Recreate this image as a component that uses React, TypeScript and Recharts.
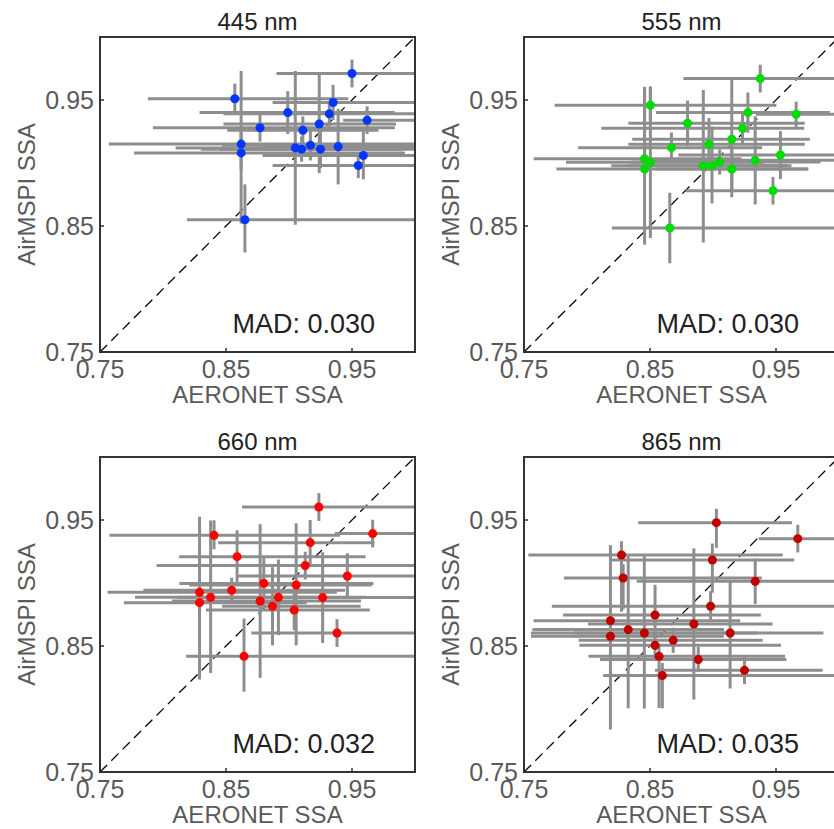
import { ScatterChart, Scatter, XAxis, YAxis, ZAxis, ErrorBar, ReferenceLine, ReferenceArea } from 'recharts';

// axis ticks shared by all panels
const ssaTicks = [0.75, 0.85, 0.95];
const ssaDomain: [number, number] = [0.75, 1.0];

// 445 nm
const aeronet445 = [0.857, 0.862, 0.862, 0.865, 0.877, 0.899, 0.911, 0.905, 0.910, 0.917, 0.924, 0.925, 0.932, 0.935, 0.939, 0.950, 0.962, 0.959, 0.955];
const airmspi445 = [0.951, 0.915, 0.908, 0.855, 0.928, 0.940, 0.926, 0.912, 0.911, 0.914, 0.931, 0.911, 0.939, 0.948, 0.913, 0.971, 0.934, 0.906, 0.898];
const xErr445 = [[0.069, 0.09], [0.105, 0.14], [0.085, 0.13], [0.046, 0.14], [0.085, 0.107], [0.07, 0.085], [0.06, 0.06], [0.095, 0.1], [0.08, 0.08], [0.07, 0.08], [0.076, 0.061], [0.08, 0.08], [0.084, 0.068], [0.048, 0.07], [0.06, 0.07], [0.06, 0.06], [0.019, 0.04], [0.08, 0.05], [0.068, 0.05]];
const yErr445 = [[0.012, 0.012], [0.02, 0.058], [0.056, 0.02], [0.026, 0.028], [0.011, 0.011], [0.017, 0.017], [0.011, 0.011], [0.061, 0.061], [0.01, 0.01], [0.012, 0.012], [0.039, 0.04], [0.015, 0.015], [0.01, 0.01], [0.014, 0.014], [0.03, 0.03], [0.011, 0.011], [0.011, 0.011], [0.019, 0.019], [0.01, 0.01]];

// 555 nm
const aeronet555 = [0.9375, 0.8503, 0.9277, 0.966, 0.8798, 0.9234, 0.9149, 0.8968, 0.867, 0.9535, 0.8457, 0.8503, 0.9335, 0.9053, 0.8992, 0.8923, 0.9149, 0.8457, 0.9476, 0.8657];
const airmspi555 = [0.967, 0.9458, 0.94, 0.9386, 0.9315, 0.9275, 0.9188, 0.9148, 0.9122, 0.9063, 0.9034, 0.9005, 0.9021, 0.9008, 0.8979, 0.8979, 0.8952, 0.8952, 0.878, 0.8484];
const xErr555 = [[0.061, 0.07], [0.076, 0.1], [0.073, 0.065], [0.032, 0.05], [0.047, 0.093], [0.112, 0.049], [0.079, 0.062], [0.064, 0.076], [0.074, 0.072], [0.081, 0.06], [0.088, 0.077], [0.067, 0.09], [0.09, 0.07], [0.07, 0.08], [0.08, 0.06], [0.06, 0.07], [0.06, 0.06], [0.07, 0.13], [0.069, 0.06], [0.046, 0.14]];
const yErr555 = [[0.011, 0.011], [0.012, 0.015], [0.016, 0.016], [0.01, 0.01], [0.018, 0.018], [0.012, 0.012], [0.046, 0.047], [0.021, 0.021], [0.012, 0.012], [0.019, 0.019], [0.012, 0.057], [0.06, 0.06], [0.035, 0.035], [0.01, 0.01], [0.03, 0.031], [0.061, 0.06], [0.018, 0.018], [0.06, 0.065], [0.011, 0.011], [0.028, 0.028]];

// 660 nm
const aeronet660 = [0.9237, 0.9664, 0.8405, 0.9168, 0.8588, 0.9129, 0.9463, 0.88, 0.9057, 0.8545, 0.829, 0.8378, 0.8916, 0.9267, 0.829, 0.8771, 0.8869, 0.9041, 0.9381, 0.8643];
const airmspi660 = [0.9603, 0.9392, 0.9378, 0.932, 0.9209, 0.9138, 0.9056, 0.8997, 0.8984, 0.8942, 0.8926, 0.8886, 0.8886, 0.8884, 0.8844, 0.8857, 0.8815, 0.8786, 0.8603, 0.8418];
const xErr660 = [[0.061, 0.08], [0.03, 0.04], [0.083, 0.1], [0.073, 0.051], [0.046, 0.102], [0.118, 0.1], [0.087, 0.06], [0.067, 0.087], [0.085, 0.06], [0.07, 0.09], [0.073, 0.109], [0.06, 0.09], [0.08, 0.07], [0.09, 0.08], [0.06, 0.085], [0.07, 0.08], [0.04, 0.07], [0.07, 0.06], [0.068, 0.07], [0.046, 0.14]];
const yErr660 = [[0.011, 0.011], [0.011, 0.011], [0.011, 0.012], [0.018, 0.018], [0.021, 0.021], [0.011, 0.011], [0.018, 0.018], [0.02, 0.02], [0.048, 0.049], [0.01, 0.01], [0.015, 0.06], [0.06, 0.061], [0.03, 0.03], [0.036, 0.036], [0.061, 0.015], [0.061, 0.061], [0.031, 0.031], [0.016, 0.016], [0.011, 0.011], [0.028, 0.03]];

// 865 nm
const aeronet865 = [0.9027, 0.9673, 0.8274, 0.8995, 0.8287, 0.9335, 0.8981, 0.854, 0.8186, 0.8848, 0.8327, 0.8455, 0.9136, 0.8186, 0.8684, 0.854, 0.8572, 0.8883, 0.925, 0.8598];
const airmspi865 = [0.9479, 0.9352, 0.9222, 0.9183, 0.904, 0.9013, 0.8815, 0.8746, 0.8701, 0.8675, 0.863, 0.8603, 0.8603, 0.8577, 0.8545, 0.8505, 0.8418, 0.8392, 0.8307, 0.8265];
const xErr865 = [[0.062, 0.06], [0.031, 0.04], [0.074, 0.128], [0.08, 0.065], [0.047, 0.11], [0.094, 0.07], [0.126, 0.11], [0.073, 0.084], [0.061, 0.103], [0.084, 0.0625], [0.076, 0.076], [0.09, 0.09], [0.124, 0.074], [0.063, 0.09], [0.075, 0.071], [0.06, 0.1], [0.056, 0.1], [0.078, 0.07], [0.071, 0.062], [0.047, 0.14]];
const yErr865 = [[0.02, 0.011], [0.011, 0.011], [0.045, 0.011], [0.026, 0.013], [0.025, 0.011], [0.018, 0.018], [0.012, 0.012], [0.025, 0.024], [0.02, 0.06], [0.06, 0.06], [0.0625, 0.06], [0.06, 0.062], [0.044, 0.042], [0.074, 0.02], [0.01, 0.01], [0.01, 0.01], [0.041, 0.01], [0.01, 0.01], [0.011, 0.011], [0.026, 0.01]];

const PLOT_L = 100;
const PLOT_T = 37;
const PLOT_SIZE = 315;
const GRAY = '#8e8e8e';
const FRAME = '#333';
const TICK_TEXT = '#5a5a5a';

interface PanelProps {
  title: string;
  mad: string;
  color: string;
  x: number[];
  y: number[];
  xErr: number[][];
  yErr: number[][];
  left: number;
  top: number;
}

// error bars are cut at the frame, like the original axes do
const clip = (v: number, err: number[]) => [
  Math.min(err[0], v - ssaDomain[0]),
  Math.min(err[1], ssaDomain[1] - v),
];

function Panel({ title, mad, color, x, y, xErr, yErr, left, top }: PanelProps) {
  const data = x.map((v, i) => ({
    aeronet: v,
    airmspi: y[i],
    ex: clip(v, xErr[i]),
    ey: clip(y[i], yErr[i]),
  }));
  const cx = PLOT_L + PLOT_SIZE / 2;
  const cy = PLOT_T + PLOT_SIZE / 2;
  const bottom = PLOT_T + PLOT_SIZE;

  return (
    <div style={{ position: 'absolute', left: left - PLOT_L, top: top - PLOT_T }}>
      <ScatterChart width={430} height={432} margin={{ top: PLOT_T - 1, right: 14, bottom: 0, left: 0 }}>
        <XAxis
          xAxisId="b"
          type="number"
          dataKey="aeronet"
          orientation="bottom"
          domain={ssaDomain}
          ticks={ssaTicks}
          interval={0}
          allowDataOverflow
          height={80}
          tickSize={-4}
          tickMargin={12}
          axisLine={{ stroke: FRAME, strokeWidth: 2 }}
          tickLine={{ stroke: FRAME, strokeWidth: 1.5 }}
          tick={{ fill: TICK_TEXT, fontSize: 25 }}
          tickFormatter={(v: number) => v.toFixed(2)}
          label={() => (
            <g>
              <text x={cx} y={bottom + 51} textAnchor="middle" fontSize={24} fill={TICK_TEXT}>AERONET SSA</text>
              <text x={PLOT_L + PLOT_SIZE - 40} y={bottom - 19} textAnchor="end" fontSize={27} fill="#222">{mad}</text>
            </g>
          )}
        />
        <XAxis
          xAxisId="t"
          type="number"
          orientation="top"
          domain={ssaDomain}
          ticks={ssaTicks}
          interval={0}
          allowDataOverflow
          height={1}
          tickSize={-5}
          tick={false}
          axisLine={{ stroke: FRAME, strokeWidth: 2 }}
          tickLine={{ stroke: FRAME, strokeWidth: 1.5 }}
          label={() => (
            <text x={cx} y={PLOT_T - 7} textAnchor="middle" fontSize={24} fill="#222">{title}</text>
          )}
        />
        <YAxis
          yAxisId="l"
          type="number"
          dataKey="airmspi"
          orientation="left"
          domain={ssaDomain}
          ticks={ssaTicks}
          interval={0}
          allowDataOverflow
          width={PLOT_L}
          tickSize={-4}
          tickMargin={10}
          axisLine={{ stroke: FRAME, strokeWidth: 2 }}
          tickLine={{ stroke: FRAME, strokeWidth: 1.5 }}
          tick={{ fill: TICK_TEXT, fontSize: 25 }}
          tickFormatter={(v: number) => v.toFixed(2)}
          label={() => (
            <text x={35} y={cy} transform={`rotate(-90 35 ${cy})`} textAnchor="middle" fontSize={24} fill={TICK_TEXT}>AirMSPI SSA</text>
          )}
        />
        <YAxis
          yAxisId="r"
          type="number"
          orientation="right"
          domain={ssaDomain}
          ticks={ssaTicks}
          interval={0}
          allowDataOverflow
          width={1}
          tickSize={-5}
          tick={false}
          axisLine={{ stroke: FRAME, strokeWidth: 2 }}
          tickLine={{ stroke: FRAME, strokeWidth: 1.5 }}
        />
        <ZAxis range={[70, 70]} />
        <ReferenceArea
          xAxisId="b"
          yAxisId="l"
          x1={ssaDomain[0]}
          x2={ssaDomain[1]}
          y1={ssaDomain[0]}
          y2={ssaDomain[1]}
          fill="none"
          fillOpacity={0}
          stroke={FRAME}
          strokeWidth={2}
        />
        <ReferenceLine
          xAxisId="b"
          yAxisId="l"
          segment={[{ x: 0.75, y: 0.75 }, { x: 1.0, y: 1.0 }]}
          stroke="#000"
          strokeWidth={1.3}
          strokeDasharray="10 6"
        />
        <Scatter xAxisId="b" yAxisId="l" data={data} fill={color} isAnimationActive={false}>
          <ErrorBar dataKey="ex" direction="x" width={0} stroke={GRAY} strokeWidth={3} isAnimationActive={false} />
          <ErrorBar dataKey="ey" direction="y" width={0} stroke={GRAY} strokeWidth={3} isAnimationActive={false} />
        </Scatter>
      </ScatterChart>
    </div>
  );
}

export default function App() {
  return (
    <div
      style={{
        position: 'absolute',
        left: 0,
        top: 0,
        width: 834,
        height: 829,
        overflow: 'hidden',
        background: '#fff',
        fontFamily: '"Liberation Sans", Arial, Helvetica, sans-serif',
      }}
    >
      <Panel title="445 nm" mad="MAD: 0.030" color="#0536ff" x={aeronet445} y={airmspi445} xErr={xErr445} yErr={yErr445} left={100} top={37} />
      <Panel title="555 nm" mad="MAD: 0.030" color="#00dc00" x={aeronet555} y={airmspi555} xErr={xErr555} yErr={yErr555} left={524} top={37} />
      <Panel title="660 nm" mad="MAD: 0.032" color="#ff0000" x={aeronet660} y={airmspi660} xErr={xErr660} yErr={yErr660} left={100} top={457} />
      <Panel title="865 nm" mad="MAD: 0.035" color="#c00000" x={aeronet865} y={airmspi865} xErr={xErr865} yErr={yErr865} left={524} top={457} />
    </div>
  );
}
